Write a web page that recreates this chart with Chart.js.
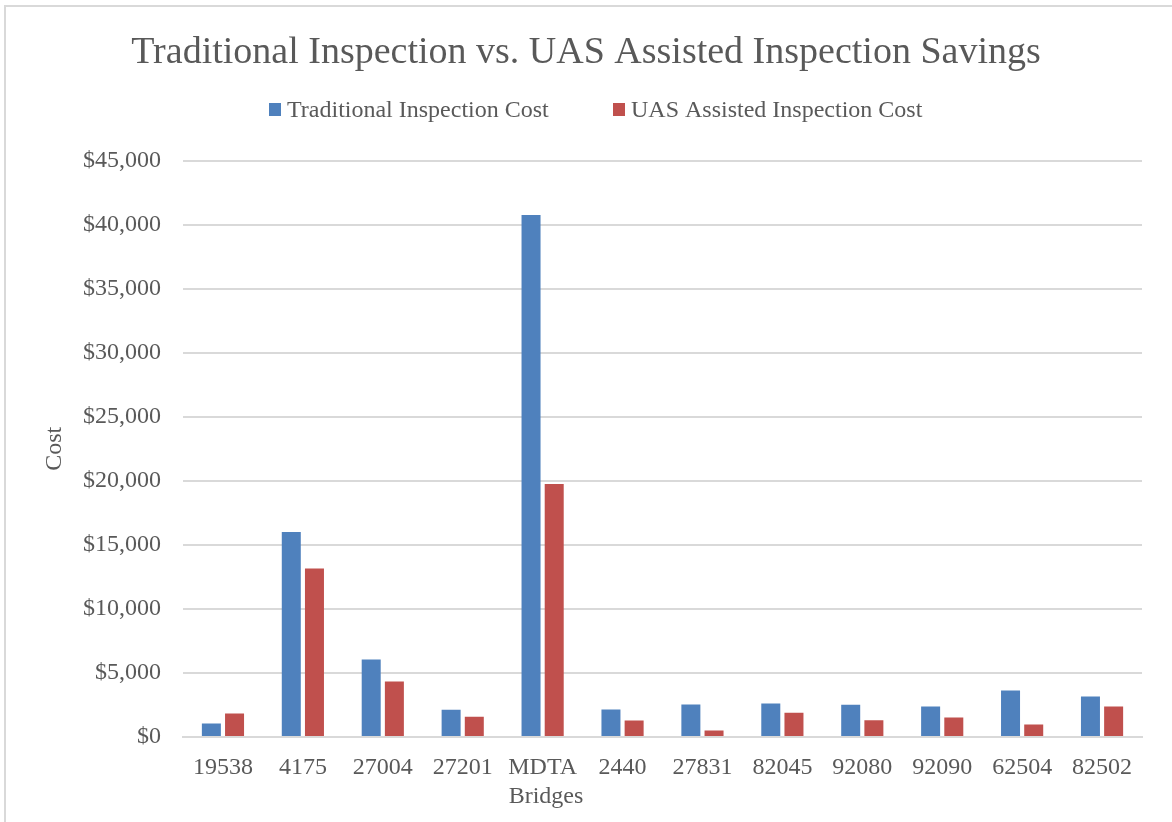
<!DOCTYPE html>
<html>
<head>
<meta charset="utf-8">
<script src="https://cdn.jsdelivr.net/npm/chart.js@4.4.1/dist/chart.umd.min.js"></script>
<style>
  html, body { margin: 0; padding: 0; background: #fff; }
  #wrap { position: relative; width: 1172px; height: 822px; }
  #frame { position: absolute; left: 4px; top: 5px; right: 0; bottom: 0; border-left: 2px solid #d9d9d9; border-top: 2px solid #d9d9d9; }
  canvas { position: absolute; left: 0; top: 0; }
</style>
</head>
<body>
<div id="wrap">
  <div id="frame"></div>
  <canvas id="c" width="1172" height="822"></canvas>
</div>
<script>
const categories = ["19538", "4175", "27004", "27201", "MDTA", "2440", "27831", "82045", "92080", "92090", "62504", "82502"];
const traditionalCost = [1050, 16000, 6050, 2120, 40760, 2150, 2540, 2620, 2520, 2380, 3630, 3160];
const uasCost = [1840, 13160, 4340, 1580, 19750, 1290, 510, 1890, 1310, 1520, 980, 2380];
const seriesNames = ["Traditional Inspection Cost", "UAS Assisted Inspection Cost"];
const seriesColors = ["#4f81bd", "#c0504d"];
const yTicks = { min: 0, max: 45000, step: 5000 };
const xAxisTitle = "Bridges";

const FONT = "'Liberation Serif', 'DejaVu Serif', serif";
const GREY = "#595959";

// Legend (Excel style) and x-axis title placed like the original
const extras = {
  id: 'extras',
  afterDraw(chart) {
    const ctx = chart.ctx;
    ctx.save();
    ctx.font = "24px " + FONT;
    ctx.fillStyle = GREY;
    ctx.textBaseline = 'middle';
    ctx.textAlign = 'left';
    const legendY = 110;
    const boxX = [269, 613];
    chart.data.datasets.forEach((ds, i) => {
      ctx.fillStyle = ds.backgroundColor;
      ctx.fillRect(boxX[i], legendY - 7, 12, 13);
      ctx.fillStyle = GREY;
      ctx.fillText(ds.label, boxX[i] + 18, legendY + 1);
    });
    // x axis title
    ctx.textAlign = 'center';
    ctx.font = "24px " + FONT;
    ctx.fillText(xAxisTitle, 546, 797);
    ctx.restore();
  }
};

new Chart(document.getElementById('c'), {
  type: 'bar',
  data: {
    labels: categories,
    datasets: [
      { label: seriesNames[0], data: traditionalCost, backgroundColor: seriesColors[0], barPercentage: 0.82, categoryPercentage: 0.58 },
      { label: seriesNames[1], data: uasCost, backgroundColor: seriesColors[1], barPercentage: 0.82, categoryPercentage: 0.58 }
    ]
  },
  plugins: [extras],
  options: {
    responsive: false,
    animation: false,
    layout: { padding: { left: 30, right: 30, top: 0, bottom: 0 } },
    plugins: {
      title: {
        display: true,
        text: 'Traditional Inspection vs. UAS Assisted Inspection Savings',
        color: GREY,
        font: { family: FONT, size: 38, weight: 'normal' },
        padding: { top: 30, bottom: 85 }
      },
      legend: { display: false },
      tooltip: { enabled: false }
    },
    scales: {
      x: {
        grid: { display: false, drawTicks: false },
        border: { display: true, color: '#d9d9d9', width: 2 },
        ticks: { color: GREY, font: { family: FONT, size: 24 }, padding: 16, maxRotation: 0, autoSkip: false },
        afterFit: s => { s.height = 85; }
      },
      y: {
        min: yTicks.min,
        max: yTicks.max,
        grid: { color: '#d9d9d9', lineWidth: 2, drawTicks: false },
        border: { display: false },
        ticks: {
          stepSize: yTicks.step,
          color: GREY,
          font: { family: FONT, size: 24 },
          padding: 22,
          callback: v => '$' + v.toLocaleString('en-US')
        },
        title: { display: true, text: 'Cost', color: GREY, font: { family: FONT, size: 24 }, padding: { top: 10, bottom: 0 } },
        afterFit: s => { s.width = 153; }
      }
    }
  }
});
</script>
</body>
</html>
